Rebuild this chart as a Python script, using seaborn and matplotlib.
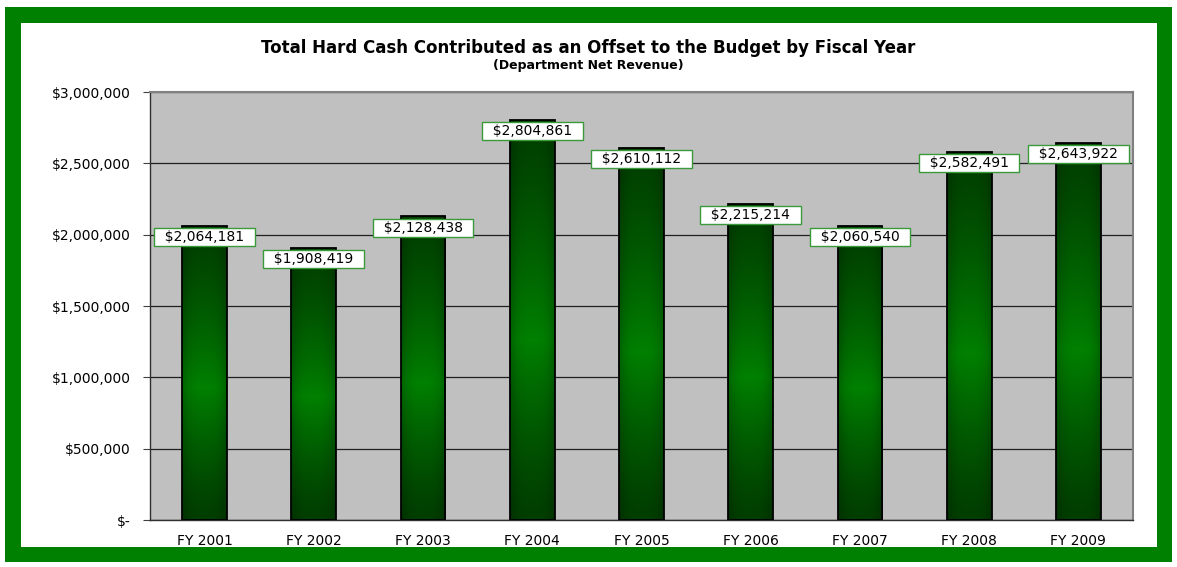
import numpy as np
import pandas as pd
import seaborn as sns
import matplotlib.pyplot as plt
from matplotlib.patches import Rectangle
from matplotlib.ticker import FuncFormatter, FixedLocator

years = ["FY 2001", "FY 2002", "FY 2003", "FY 2004", "FY 2005",
         "FY 2006", "FY 2007", "FY 2008", "FY 2009"]
revenue = [2064181, 1908419, 2128438, 2804861, 2610112,
           2215214, 2060540, 2582491, 2643922]

sns.set_style("white")
plt.rcParams['font.family'] = ['DejaVu Sans']
plt.rcParams['text.color'] = 'black'
plt.rcParams['xtick.color'] = 'black'
plt.rcParams['ytick.color'] = 'black'

df = pd.DataFrame({"year": years, "revenue": revenue})

W, H = 1177, 567
fig = plt.figure(figsize=(W / 100, H / 100), dpi=100)
fig.patches.append(Rectangle((5 / W, 5 / H), 1167 / W, 555 / H, transform=fig.transFigure,
                             facecolor="#008000", edgecolor="none", zorder=-2))
fig.patches.append(Rectangle((21 / W, 20 / H), 1136 / W, 524 / H, transform=fig.transFigure,
                             facecolor="white", edgecolor="none", zorder=-1))

ax = fig.add_axes([150 / W, 47 / H, 983 / W, 428 / H])
ax.set_facecolor("#c0c0c0")

sns.barplot(data=df, x="year", y="revenue", color="#006000", width=0.41,
            edgecolor="black", linewidth=1.3, ax=ax, zorder=3)

# gradient fill: dark top/bottom, bright around the middle, darker at sides
ny, nx = 200, 60
t = np.linspace(0, 1, ny)[:, None]      # 0 = bottom, 1 = top
s = np.linspace(-1, 1, nx)[None, :]
vert = np.where(t < 0.45, t / 0.45, (1 - t) / 0.55)
vert = np.clip(vert, 0, 1) ** 1.3
horiz = 1 - 0.22 * np.abs(s) ** 3
g = (0x3e + (0x80 - 0x3e) * vert) * horiz
img = np.zeros((ny, nx, 3))
img[..., 1] = g / 255.0
for p in ax.patches:
    x0, y0 = p.get_x(), p.get_y()
    w, h = p.get_width(), p.get_height()
    im = ax.imshow(img, extent=[x0, x0 + w, y0, y0 + h], origin="lower",
                   aspect="auto", zorder=2.9, interpolation="bilinear")
    im.set_clip_path(p)
    p.set_facecolor("none")

ax.set_xlim(-0.5, len(years) - 0.5)
ax.set_ylim(0, 3000000)

ax.yaxis.set_major_locator(FixedLocator(np.arange(0, 3000001, 500000)))
ax.yaxis.set_major_formatter(FuncFormatter(lambda v, _: "$-" if v == 0 else f"${v:,.0f}"))
ax.grid(axis="y", color="#202020", linewidth=0.9, zorder=1)
ax.set_axisbelow(True)

ax.set_xticks(np.arange(len(years)))
ax.set_xticklabels(years)
ax.set_xticks(np.arange(len(years) + 1) - 0.5, minor=True)
ax.tick_params(axis="x", which="major", length=0, labelsize=10, pad=10)
ax.tick_params(axis="x", which="minor", length=5, color="black", direction="out")
ax.tick_params(axis="y", length=5, color="#404040", labelsize=10, pad=9, direction="out", left=True)
ax.set_xlabel("")
ax.set_ylabel("")

for side in ["top", "right"]:
    ax.spines[side].set_color("#808080")
    ax.spines[side].set_linewidth(1.5)
for side in ["left", "bottom"]:
    ax.spines[side].set_color("#303030")
    ax.spines[side].set_linewidth(1.0)

for i, v in enumerate(revenue):
    ax.text(i, v - 80000, f"  ${v:,.0f}  ", ha="center", va="center", fontsize=10, zorder=5,
            bbox=dict(boxstyle="square,pad=0.14", facecolor="white", edgecolor="#3a9a3a", linewidth=1))

fig.text(0.5, 1 - 48 / H, "Total Hard Cash Contributed as an Offset to the Budget by Fiscal Year",
         ha="center", va="center", fontsize=12, fontweight="bold")
fig.text(0.5, 1 - 66 / H, "(Department Net Revenue)", ha="center", va="center",
         fontsize=9, fontweight="bold")

fig.savefig("out.png", dpi=100)
